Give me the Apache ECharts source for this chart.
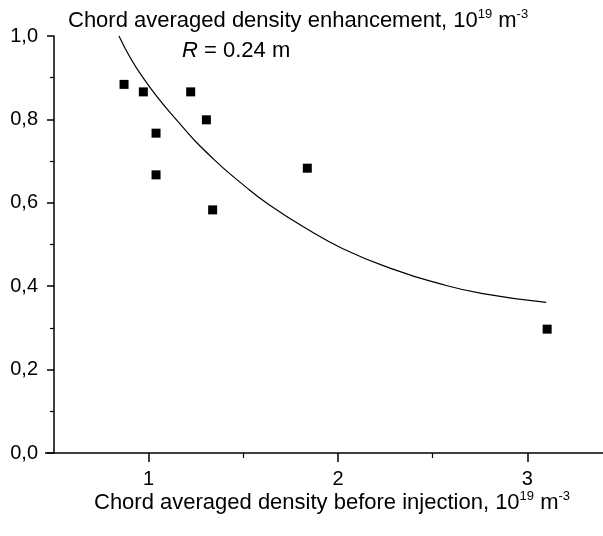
<!DOCTYPE html>
<html>
<head>
<meta charset="utf-8">
<script src="https://cdn.jsdelivr.net/npm/echarts@6/dist/echarts.min.js"></script>
<style>
html,body{margin:0;padding:0;background:#fff;}
#chart{width:603px;height:536px;}
</style>
</head>
<body>
<div id="chart"></div>
<script>
// Measured points: [density before injection, density enhancement]
const pointsX = [0.870, 0.972, 1.039, 1.039, 1.222, 1.305, 1.338, 1.838, 3.105];
const pointsY = [0.884, 0.866, 0.767, 0.667, 0.866, 0.799, 0.583, 0.683, 0.297];
// Fitted curve
const curveX = [0.843, 0.970, 1.170, 1.340, 1.516, 1.640, 1.815, 2.026, 2.290, 2.536, 2.765, 3.100];
const curveY = [1.000, 0.900, 0.787, 0.706, 0.637, 0.594, 0.543, 0.490, 0.441, 0.406, 0.382, 0.361];
const xMajorTicks = [1, 2, 3];
const xMinorTicks = [1.5, 2.5];

const FONT = '"Liberation Sans", Arial, sans-serif';
const chart = echarts.init(document.getElementById('chart'), null, {renderer: 'canvas'});

const sup = {fontSize: 13, fontFamily: FONT, fontWeight: 'normal', color: '#000', verticalAlign: 'top', lineHeight: 26};
const norm = {fontSize: 22, fontFamily: FONT, fontWeight: 'normal', color: '#000', lineHeight: 26};

chart.setOption({
  animation: false,
  backgroundColor: '#fff',
  title: [
    {
      text: '{a|Chord averaged density enhancement, 10}{s|19}{a| m}{s|-3}',
      left: 68, top: 8, padding: 0,
      textStyle: {fontWeight: 'normal', rich: {a: norm, s: sup}}
    },
    {
      text: '{i|R}{a| = 0.24 m}',
      left: 182, top: 38, padding: 0,
      textStyle: {fontWeight: 'normal', rich: {i: Object.assign({}, norm, {fontStyle: 'italic'}), a: norm}}
    },
    {
      text: '{a|Chord averaged density before injection, 10}{s|19}{a| m}{s|-3}',
      left: 94, top: 490, padding: 0,
      textStyle: {fontWeight: 'normal', rich: {a: norm, s: sup}}
    }
  ],
  grid: {left: 54, right: 0, top: 36, bottom: 83, containLabel: false},
  xAxis: [
    {
      type: 'value', min: 0.5, max: 3.4, interval: 0.5,
      splitLine: {show: false},
      axisLine: {show: true, onZero: false, lineStyle: {color: '#000', width: 1.5}},
      axisTick: {show: true, customValues: xMajorTicks, length: 9, inside: false, lineStyle: {color: '#000', width: 1.5}},
      axisLabel: {show: true, customValues: xMajorTicks, margin: 16, fontSize: 20, fontFamily: FONT, color: '#000',
        formatter: v => String(v)}
    },
    {
      type: 'value', min: 0.5, max: 3.4, interval: 0.5, position: 'bottom',
      splitLine: {show: false},
      axisLine: {show: false, onZero: false},
      axisTick: {show: true, customValues: xMinorTicks, length: 5, lineStyle: {color: '#000', width: 1.2}},
      axisLabel: {show: false}
    }
  ],
  yAxis: {
    type: 'value', min: 0, max: 1, interval: 0.2,
    splitLine: {show: false},
    axisLine: {show: true, onZero: false, lineStyle: {color: '#000', width: 1.5}},
    axisTick: {show: true, length: 7, lineStyle: {color: '#000', width: 1.5}},
    minorTick: {show: true, splitNumber: 2, length: 4, lineStyle: {color: '#000', width: 1.2}},
    axisLabel: {margin: 16, fontSize: 20, fontFamily: FONT, color: '#000',
      formatter: v => v.toFixed(1).replace('.', ',')}
  },
  series: [
    {
      type: 'line', xAxisIndex: 0,
      data: curveX.map((x, i) => [x, curveY[i]]),
      smooth: true, showSymbol: false, symbol: 'none',
      lineStyle: {color: '#000', width: 1.2}
    },
    {
      type: 'scatter', xAxisIndex: 0,
      data: pointsX.map((x, i) => [x, pointsY[i]]),
      symbol: 'rect', symbolSize: 9,
      itemStyle: {color: '#000', opacity: 1}
    }
  ]
});

// small extension of the x axis line to the left of the y axis (as in the original plot)
const origin = chart.convertToPixel({gridIndex: 0}, [0.5, 0]);
chart.setOption({
  graphic: [{
    type: 'line',
    shape: {x1: origin[0] - 9, y1: origin[1], x2: origin[0], y2: origin[1]},
    style: {stroke: '#000', lineWidth: 1.5}
  }]
});
</script>
</body>
</html>
